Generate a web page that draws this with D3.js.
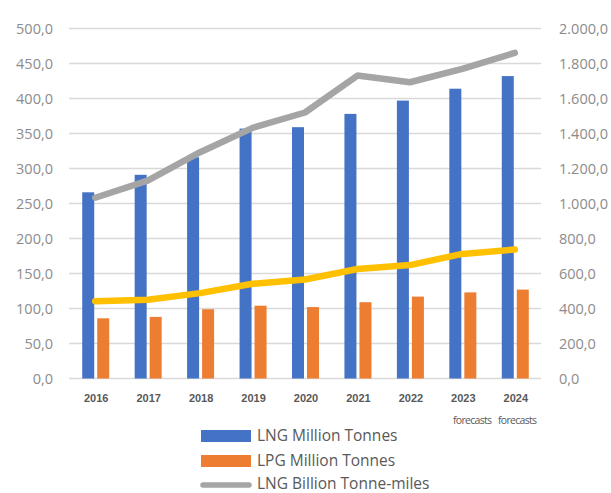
<!DOCTYPE html>
<html>
<head>
<meta charset="utf-8">
<script src="https://cdn.jsdelivr.net/npm/d3@7"></script>
<style>
  html, body { margin: 0; padding: 0; background: #fff; }
  svg { display: block; font-family: "Open Sans", "DejaVu Sans", sans-serif; }
</style>
</head>
<body>
<svg id="chart" width="611" height="493"></svg>
<script>
// Shipping volumes by year
const years = ["2016", "2017", "2018", "2019", "2020", "2021", "2022", "2023", "2024"];
const lngTonnes = [266, 291, 316, 357, 359, 378, 397, 414, 432];          // million tonnes (left axis)
const lpgTonnes = [86, 88, 99, 104, 102, 109, 117, 123, 127];             // million tonnes (left axis)
const lngTonneMiles = [1033, 1131, 1293, 1432, 1520, 1731, 1693, 1769, 1861]; // billion tonne-miles (right axis)
const lpgTonneMiles = [442, 450, 488, 541, 566, 626, 648, 712, 737];      // billion tonne-miles (right axis)
const leftTicks = [0, 50, 100, 150, 200, 250, 300, 350, 400, 450, 500];
const rightTicks = [0, 200, 400, 600, 800, 1000, 1200, 1400, 1600, 1800, 2000];
const forecastNote = ["forecasts", "forecasts"];
const legendItems = ["LNG Million Tonnes", "LPG Million Tonnes", "LNG Billion Tonne-miles"];

const colors = { lng: "#4472C4", lpg: "#ED7D31", lngMiles: "#A5A5A5", lpgMiles: "#FFC000" };

const svg = d3.select("#chart");
const plot = { left: 69, right: 541, top: 28.5, bottom: 378.5 };

const x = d3.scaleBand().domain(years).range([plot.left, plot.right]).paddingInner(0).paddingOuter(0);
const yL = d3.scaleLinear().domain([0, 500]).range([plot.bottom, plot.top]);
const yR = d3.scaleLinear().domain([0, 2000]).range([plot.bottom, plot.top]);

const fmt = v => {
  const s = d3.format(",.1f")(v);
  return s.replace(/,/g, "#").replace(".", ",").replace(/#/g, ".");
};

// gridlines
svg.append("g").selectAll("line").data(leftTicks).join("line")
  .attr("x1", plot.left).attr("x2", plot.right)
  .attr("y1", d => yL(d)).attr("y2", d => yL(d))
  .attr("stroke", "#D9D9D9").attr("stroke-width", 1.3);

// left axis labels
const leftAxis = d3.axisLeft(yL).tickValues(leftTicks).tickFormat(fmt).tickSize(0).tickPadding(0);
const gL = svg.append("g").attr("transform", "translate(53,0)").call(leftAxis);
gL.select(".domain").remove();
gL.selectAll("text").attr("font-size", 14.5).attr("fill", "#8C8C8C").attr("font-family", "Open Sans");

// right axis labels
const rightAxis = d3.axisRight(yR).tickValues(rightTicks).tickFormat(fmt).tickSize(0).tickPadding(0);
const gR = svg.append("g").attr("transform", "translate(559,0)").call(rightAxis);
gR.select(".domain").remove();
gR.selectAll("text").attr("font-size", 14.5).attr("fill", "#8C8C8C").attr("font-family", "Open Sans");

// x axis labels
const xAxis = d3.axisBottom(x).tickSize(0).tickPadding(0);
const gX = svg.append("g").attr("transform", `translate(1,${plot.bottom + 16})`).call(xAxis);
gX.select(".domain").remove();
gX.selectAll("text").attr("font-size", 11).attr("font-weight", "bold").attr("fill", "#595959");

// forecast notes under the last two years
svg.append("g").selectAll("text").data(forecastNote).join("text")
  .attr("x", (d, i) => 453 + i * 45)
  .attr("y", 424)
  .attr("font-size", 10.5).attr("letter-spacing", -0.7).attr("fill", "#595959")
  .text(d => d);

// bars
const bw = 12;
const gap = 3;
svg.append("g").selectAll("rect").data(years).join("rect")
  .attr("x", d => x(d) + x.bandwidth() / 2 - bw - gap / 2 + 0.5)
  .attr("y", (d, i) => yL(lngTonnes[i]))
  .attr("width", bw)
  .attr("height", (d, i) => yL(0) - yL(lngTonnes[i]))
  .attr("fill", colors.lng);

svg.append("g").selectAll("rect").data(years).join("rect")
  .attr("x", d => x(d) + x.bandwidth() / 2 + gap / 2 + 0.5)
  .attr("y", (d, i) => yL(lpgTonnes[i]))
  .attr("width", bw)
  .attr("height", (d, i) => yL(0) - yL(lpgTonnes[i]))
  .attr("fill", colors.lpg);

// lines on the right axis
const line = d3.line()
  .x(d => x(d[0]) + x.bandwidth() / 2)
  .y(d => yR(d[1]))
  .curve(d3.curveLinear);

svg.append("path")
  .datum(years.map((y, i) => [y, lngTonneMiles[i]]))
  .attr("d", line).attr("fill", "none")
  .attr("stroke", colors.lngMiles).attr("stroke-width", 6.5)
  .attr("stroke-linecap", "round").attr("stroke-linejoin", "round");

svg.append("path")
  .datum(years.map((y, i) => [y, lpgTonneMiles[i]]))
  .attr("d", line).attr("fill", "none")
  .attr("stroke", colors.lpgMiles).attr("stroke-width", 6.5)
  .attr("stroke-linecap", "round").attr("stroke-linejoin", "round");

// legend
const legend = svg.append("g");
const legendY = [436, 461, 484];
const legendColors = [colors.lng, colors.lpg, colors.lngMiles];
legendItems.forEach((label, i) => {
  if (i < 2) {
    legend.append("rect").attr("x", 201).attr("y", legendY[i] - 6).attr("width", 50).attr("height", 12)
      .attr("fill", legendColors[i]);
  } else {
    legend.append("line").attr("x1", 203).attr("x2", 249).attr("y1", legendY[i] + 1).attr("y2", legendY[i] + 1)
      .attr("stroke", legendColors[i]).attr("stroke-width", 5.5).attr("stroke-linecap", "round");
  }
  legend.append("text").attr("x", 257).attr("y", legendY[i]).attr("dy", "0.35em")
    .attr("font-size", 15.5).attr("fill", "#595959").text(label);
});
</script>
</body>
</html>
